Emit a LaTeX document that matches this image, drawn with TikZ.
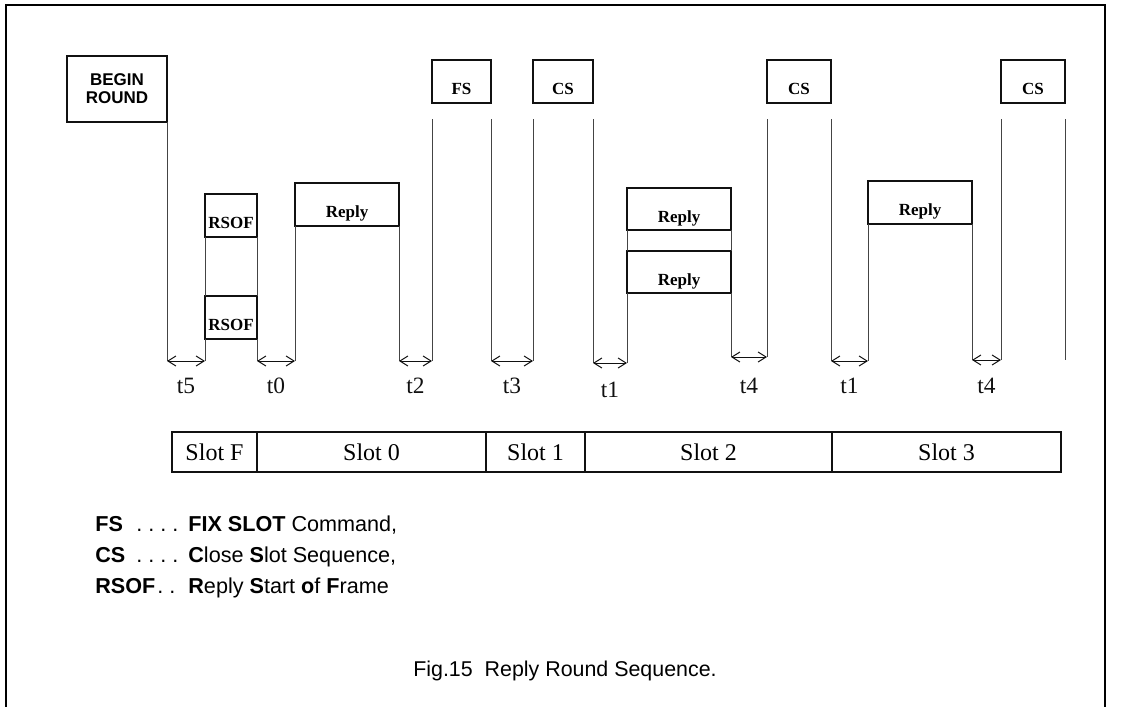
\documentclass[tikz,border=0pt]{standalone}
\usepackage{fontspec}
\setmainfont{Liberation Serif}
\newfontfamily\arialfont{Liberation Sans}
\usetikzlibrary{arrows.meta,positioning}
\definecolor{boxblack}{HTML}{111111}
\definecolor{timegray}{HTML}{444444}

\begin{document}
\begin{tikzpicture}[
  x=0.5pt,y=-0.5pt,
  >={Straight Barb[length=4pt,width=5pt]},
  cmdbox/.style={draw=boxblack,line width=0.7pt,inner sep=0pt,outer sep=0pt,
    minimum height=21.5pt,text height=1.3em,text depth=0pt,
    font=\fontsize{8.5}{9}\selectfont\bfseries},
  timeline/.style={timegray,line width=0.5pt},
  gap/.style={<->,boxblack,line width=0.5pt},
  tlab/.style={below=5pt,font=\fontsize{11.7}{13}\selectfont},
  slotcell/.style={draw=boxblack,line width=0.7pt,minimum height=20pt,
    inner sep=0pt,outer sep=0pt,font=\fontsize{12}{13}\selectfont},
  legend/.style={anchor=base west,inner sep=0pt,
    font=\arialfont\fontsize{10.8}{12}\selectfont\frenchspacing}
]
  \useasboundingbox (0,0) rectangle (1125,707);
  \draw[line width=1.2pt] (6,707) -- (6,5) -- (1105,5) -- (1105,707);

  % boxes on the time lines
  \node[cmdbox,minimum width=50pt,minimum height=33pt,align=center,
    text height=,text depth=,
    font=\arialfont\fontsize{8.5}{9}\selectfont\bfseries] (begin) at (117,89) {BEGIN\\ROUND};
  \node[cmdbox,minimum width=26pt] (rsofA) at (231,215.5) {RSOF};
  \node[cmdbox,minimum width=26pt] (rsofB) at (231,317.5) {RSOF};
  \node[cmdbox,minimum width=52pt] (reply0) at (347,204.5) {Reply};
  \node[cmdbox,minimum width=29.5pt] (fs) at (461.5,81.5) {FS};
  \node[cmdbox,minimum width=30pt] (cs1) at (563,81.5) {CS};
  \node[cmdbox,minimum width=52pt,minimum height=21pt] (replyA) at (679,209) {Reply};
  \node[cmdbox,minimum width=52pt,minimum height=21pt] (replyB) at (679,272) {Reply};
  \node[cmdbox,minimum width=32pt] (cs2) at (799,81.5) {CS};
  \node[cmdbox,minimum width=52pt] (reply3) at (920,202.5) {Reply};
  \node[cmdbox,minimum width=32pt] (cs3) at (1033,81.5) {CS};

  % line ends
  \coordinate (b0) at (167,361);
  \coordinate (b1) at (205,361);
  \coordinate (b2) at (257,361);
  \coordinate (b3) at (295,361);
  \coordinate (b4) at (399,361);
  \coordinate (b5) at (432,361);
  \coordinate (b6) at (491,361);
  \coordinate (b7) at (533,361);
  \coordinate (b8) at (593,363);
  \coordinate (b9) at (627,363);
  \coordinate (b10) at (731,357);
  \coordinate (b11) at (767,357);
  \coordinate (b12) at (831,361);
  \coordinate (b13) at (868,361);
  \coordinate (b14) at (972,360);
  \coordinate (b15) at (1001,360);
  \coordinate (b16) at (1065,360);

  \draw[timeline] (begin.south east) -- (b0);
  \draw[timeline] (rsofA.south west) -- (rsofB.north west);
  \draw[timeline] (rsofA.south east) -- (rsofB.north east);
  \draw[timeline] (rsofB.south west) -- (b1);
  \draw[timeline] (rsofB.south east) -- (b2);
  \draw[timeline] (reply0.south west) -- (b3);
  \draw[timeline] (reply0.south east) -- (b4);
  \draw[timeline] (fs.south west) ++(0,16) -- (b5);
  \draw[timeline] (fs.south east) ++(0,16) -- (b6);
  \draw[timeline] (cs1.south west) ++(0,16) -- (b7);
  \draw[timeline] (cs1.south east) ++(0,16) -- (b8);
  \draw[timeline] (replyA.south west) -- (replyB.north west);
  \draw[timeline] (replyA.south east) -- (replyB.north east);
  \draw[timeline] (replyB.south west) -- (b9);
  \draw[timeline] (replyB.south east) -- (b10);
  \draw[timeline] (cs2.south west) ++(0,16) -- (b11);
  \draw[timeline] (cs2.south east) ++(0,16) -- (b12);
  \draw[timeline] (reply3.south west) -- (b13);
  \draw[timeline] (reply3.south east) -- (b14);
  \draw[timeline] (cs3.south west) ++(0,16) -- (b15);
  \draw[timeline] (cs3.south east) ++(0,16) -- (b16);

  % gaps
  \draw[gap] (b0) -- node[tlab] {t5} (b1);
  \draw[gap] (b2) -- node[tlab] {t0} (b3);
  \draw[gap] (b4) -- node[tlab] {t2} (b5);
  \draw[gap] (b6) -- node[tlab] {t3} (b7);
  \draw[gap] (b8) -- node[tlab,below=6pt] {t1} (b9);
  \draw[gap] (b10) -- node[tlab,below=7pt] {t4} (b11);
  \draw[gap] (b12) -- node[tlab] {t1} (b13);
  \draw[gap] (b14) -- node[tlab,below=5.5pt] {t4} (b15);

  % slots
  \node[slotcell,minimum width=42.5pt,anchor=west] (slotF) at (172,452) {Slot F};
  \node[slotcell,minimum width=114.5pt,right=0pt of slotF] (slot0) {Slot 0};
  \node[slotcell,minimum width=49.5pt,right=0pt of slot0] (slot1) {Slot 1};
  \node[slotcell,minimum width=123.5pt,right=0pt of slot1] (slot2) {Slot 2};
  \node[slotcell,minimum width=114.5pt,right=0pt of slot2] (slot3) {Slot 3};

  % legend
  \node[legend] (fsKey) at (95,531) {\bfseries FS};
  \node[legend] (fsDots) at (136,531) {. . . .};
  \node[legend] (fsText) at (188,531) {\textbf{FIX SLOT} Command,};
  \node[legend] (csKey) at (95,562) {\bfseries CS};
  \node[legend] (csDots) at (136,562) {. . . .};
  \node[legend] (csText) at (188,562) {\textbf{C}lose \textbf{S}lot Sequence,};
  \node[legend] (rsofKey) at (95,593) {\bfseries RSOF};
  \node[legend] (rsofDots) at (157,593) {. .};
  \node[legend] (rsofText) at (188,593) {\textbf{R}eply \textbf{S}tart \textbf{o}f \textbf{F}rame};

  \node[anchor=base,inner sep=0pt,font=\arialfont\fontsize{10.7}{12}\selectfont\frenchspacing]
    (caption) at (565,676) {Fig.15\ \ Reply Round Sequence.};
\end{tikzpicture}
\end{document}
